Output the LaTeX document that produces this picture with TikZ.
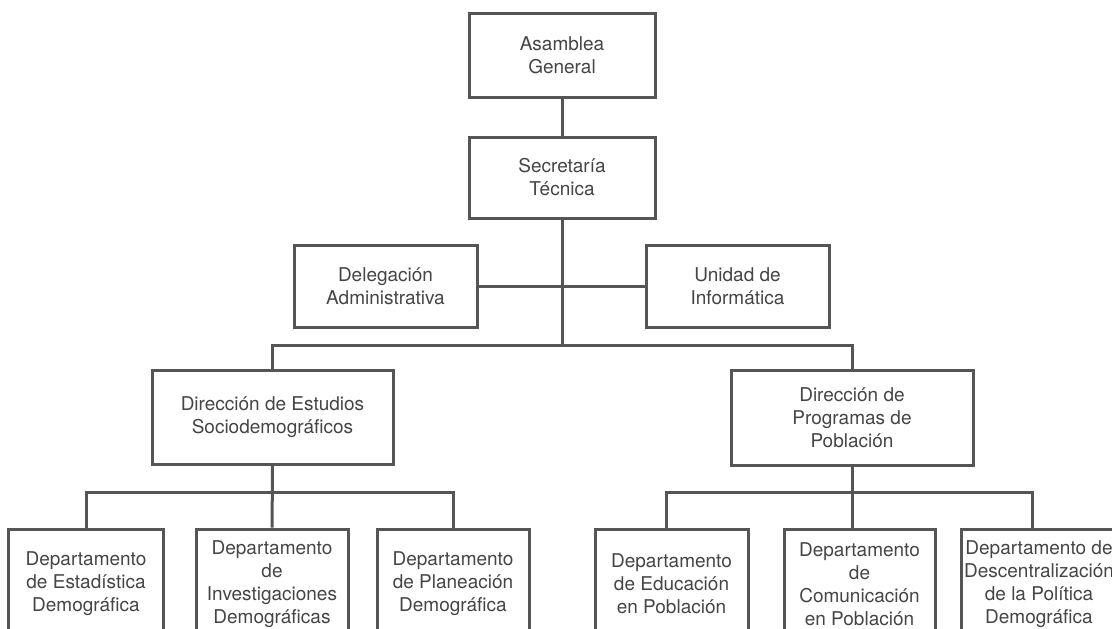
\documentclass[tikz,border=0pt]{standalone}
\usepackage{fontspec}
\setmainfont{TeX Gyre Heros}
\definecolor{ln}{HTML}{555555}
\definecolor{tx}{HTML}{454545}
\begin{document}
\begin{tikzpicture}[x=1pt,y=-1pt,
  box/.style={draw=ln, line width=3pt, fill=white, inner sep=0pt, align=center,
    text=tx, font=\fontsize{19}{23}\selectfont},
  conn/.style={draw=ln, line width=3pt}]
\useasboundingbox (0,0) rectangle (1112,629);
\clip (0,0) rectangle (1112,629);
% top
\node[box, minimum width=186pt, minimum height=84pt] (A) at (562,55) {Asamblea\\General};
\node[box, minimum width=186pt, minimum height=81pt] (S) at (562,177.5) {Secretaría\\Técnica};
\node[box, minimum width=183pt, minimum height=82pt] (D) at (385.5,286) {Delegación\\Administrativa};
\node[box, minimum width=183pt, minimum height=82pt] (U) at (737.5,286) {Unidad de\\Informática};
\node[box, minimum width=241pt, minimum height=94pt] (E) at (272.5,417) {Dirección de Estudios\\Sociodemográficos};
\node[box, minimum width=242pt, minimum height=95pt] (P) at (852,417.5) {Dirección de\\Programas de\\Población};
% bottom row
\node[box, minimum width=155pt, minimum height=110pt] (L1) at (86,584) {Departamento\\de Estadística\\Demográfica};
\node[box, minimum width=152pt, minimum height=110pt] (L2) at (272,584) {Departamento\\de\\Investigaciones\\Demográficas};
\node[box, minimum width=152pt, minimum height=110pt] (L3) at (453,584) {Departamento\\de Planeación\\Demográfica};
\node[box, minimum width=153pt, minimum height=110pt] (R1) at (671.5,584) {Departamento\\de Educación\\en Población};
\node[box, minimum width=151pt, minimum height=110pt] (R2) at (859.5,584) {Departamento\\de\\Comunicación\\en Población};
\node[box, minimum width=155pt, minimum height=110pt] (R3) at (1039,584) {Departamento de\\Descentralización\\de la Política\\Demográfica};
% connectors
\coordinate (bar) at (562,345);
\coordinate (lbar) at (272,492);
\coordinate (rbar) at (852,492);
\draw[conn] (A) -- (S);
\draw[conn] (S) -- (bar);
\draw[conn] (D) -- (U);
\draw[conn] (E.north) |- (bar) -| (P.north);
\draw[conn] (E) -- (L2);
\draw[conn] (L1.north) |- (lbar) -| (L3.north);
\draw[conn] (P) -- ([xshift=-7.5pt]R2.north);
\draw[conn] ([xshift=-5.5pt]R1.north) |- (rbar) -| ([xshift=-7pt]R3.north);
\end{tikzpicture}
\end{document}
